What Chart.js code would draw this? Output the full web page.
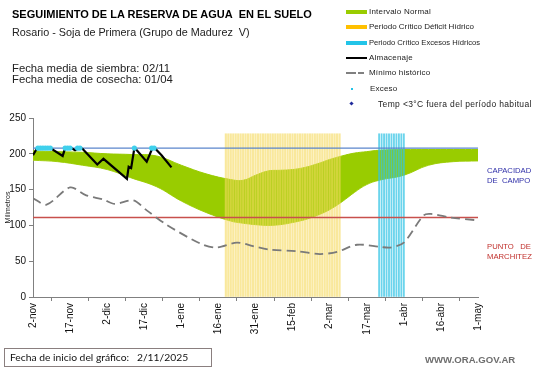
<!DOCTYPE html>
<html>
<head>
<meta charset="utf-8">
<script src="https://cdn.jsdelivr.net/npm/chart.js@4.4.1/dist/chart.umd.min.js"></script>
<style>
  html, body { margin: 0; padding: 0; background: #fff; }
  #wrap { position: relative; width: 541px; height: 368px; overflow: hidden; font-family: 'Liberation Sans', Arial, sans-serif; }
  #chart { position: absolute; left: 0; top: 0; }
  .t { position: absolute; white-space: nowrap; color: #000; }
  .lg { position: absolute; left: 369px; font-size: 8px; line-height: 8px; color: #222; letter-spacing: 0.2px; white-space: nowrap; }
  .sw { position: absolute; }
</style>
</head>
<body>
<div id="wrap">
  <canvas id="chart" width="541" height="368"></canvas>

  <div class="t" style="left:12px;top:9px;font-size:11px;line-height:11px;font-weight:bold;">SEGUIMIENTO DE LA RESERVA DE AGUA&nbsp; EN EL SUELO</div>
  <div class="t" style="left:12px;top:27px;font-size:10.8px;line-height:11px;color:#222;">Rosario - Soja de Primera (Grupo de Madurez&nbsp; V)</div>
  <div class="t" style="left:12px;top:63px;font-size:11.3px;line-height:11px;color:#222;">Fecha media de siembra: 02/11</div>
  <div class="t" style="left:12px;top:74px;font-size:11.3px;line-height:11px;color:#222;">Fecha media de cosecha: 01/04</div>

  <!-- legend -->
  <div class="sw" style="left:346px;top:10px;width:21px;height:4px;background:#99cc00;"></div>
  <div class="lg" style="top:8px;">Intervalo Normal</div>
  <div class="sw" style="left:346px;top:25px;width:21px;height:4px;background:#ffc000;"></div>
  <div class="lg" style="top:23px;letter-spacing:0;">Periodo Crítico Déficit Hídrico</div>
  <div class="sw" style="left:346px;top:41px;width:21px;height:4px;background:#22c4e8;"></div>
  <div class="lg" style="top:39px;font-size:7.6px;letter-spacing:0;">Periodo Crítico Excesos Hídricos</div>
  <div class="sw" style="left:346px;top:57px;width:21px;height:2px;background:#000;"></div>
  <div class="lg" style="top:54px;">Almacenaje</div>
  <div class="sw" style="left:346px;top:72px;width:10px;height:2px;background:#808080;"></div>
  <div class="sw" style="left:358px;top:72px;width:6px;height:2px;background:#808080;"></div>
  <div class="lg" style="top:69px;">Mínimo histórico</div>
  <div class="sw" style="left:351px;top:88px;width:2px;height:2px;background:#22c4e8;"></div>
  <div class="lg" style="top:85px;left:370px;">Exceso</div>
  <div class="sw" style="left:350px;top:102px;width:3px;height:3px;background:#1f2a9c;transform:rotate(45deg);"></div>
  <div class="lg" style="top:100px;left:378px;font-size:8.5px;letter-spacing:0.35px;">Temp &lt;3°C fuera del período habitual</div>

  <!-- reference lines labels -->
  <div class="t" style="left:487px;top:166px;font-size:7.7px;line-height:10px;color:#2e2ea8;">CAPACIDAD<br>DE&nbsp; CAMPO</div>
  <div class="t" style="left:487px;top:242px;font-size:7.7px;line-height:10px;color:#c0302c;">PUNTO&nbsp;&nbsp; DE<br>MARCHITEZ</div>

  <!-- footer -->
  <div class="t" style="left:4px;top:348px;width:206px;height:17px;border:1px solid #8a7f7f;"></div>
  <div class="t" style="left:10px;top:351px;font-family:Lato, 'Open Sans', sans-serif;font-size:10.3px;line-height:12px;color:#111;">Fecha de inicio del gráfico:&nbsp;&nbsp; 2/11/2025</div>
  <div class="t" style="left:425px;top:355px;font-size:9.6px;line-height:10px;font-weight:bold;color:#6e6e6e;">WWW.ORA.GOV.AR</div>
</div>

<script>
// x axis is days counted from 2-nov (day 0) to 1-may (day 180)
const tickLabels = ['2-nov', '17-nov', '2-dic', '17-dic', '1-ene', '16-ene', '31-ene', '15-feb', '2-mar', '17-mar', '1-abr', '16-abr', '1-may'];

// Intervalo normal (upper / lower bounds)
const bandDays = [0, 10, 20, 30, 40, 50, 60, 70, 80, 85, 90, 95, 100, 105, 110, 115, 120, 125, 130, 135, 140, 150, 160, 170, 180];
const bandUpper = [204, 203, 202, 200, 199, 197, 184, 172, 164, 163, 170, 176, 177, 178, 181, 186, 192, 197, 201, 203, 205, 206, 206, 206, 206];
const bandLower = [191, 189, 184, 178, 166, 154, 134, 118, 106, 103, 101, 100, 101, 104, 108, 114, 122, 133, 146, 157, 163, 170, 184, 189, 190];

// Almacenaje
const storeDays = [0, 1.5, 7.5, 12, 13, 15.5, 17, 18.5, 20, 26, 28.5, 38, 38.7, 39.7, 41, 42, 46, 48.3, 49.5, 52, 56];
const storeVals = [198, 207, 207, 197, 208, 208, 205, 208, 207, 185, 193, 165, 182, 180, 208, 205, 189, 208, 207, 198, 181];

// Exceso points
const excessDays = [2, 3, 4, 5, 6, 7, 13, 14, 15, 18, 19, 41, 48, 49];
const excessVal = 208;

// Minimo historico
const minDays = [0, 5.5, 15, 21.5, 28.5, 33, 40.5, 46, 54, 67.5, 74, 82.5, 89, 96, 106.5, 116, 123, 131, 140.5, 144.5, 150, 158, 161, 169, 180];
const minVals = [138, 129, 153, 142, 136, 130, 135, 121, 101, 75, 69, 76, 71, 66, 64, 60, 63, 73, 70, 69, 76, 114, 116, 111, 107];

// Periodos criticos (one bar per day)
const deficitStart = 78, deficitEnd = 124;
const excessStart = 140, excessEnd = 150;
const criticalHeight = 228;

const capacidadCampo = 208;
const puntoMarchitez = 111;

const zip = (xs, ys) => xs.map((x, i) => ({ x: x, y: ys[i] }));
const dayRange = (a, b, v) => { const out = []; for (let d = a; d <= b; d++) out.push({ x: d, y: v }); return out; };

const ctx = document.getElementById('chart').getContext('2d');
new Chart(ctx, {
    type: 'line',
    data: {
        datasets: [
            {
                label: 'Exceso',
                data: excessDays.map(d => ({ x: d, y: excessVal })),
                showLine: false,
                pointRadius: 2.6,
                pointBackgroundColor: '#3fd0ec',
                pointBorderWidth: 0,
                order: 0
            },
            {
                label: 'Almacenaje',
                data: zip(storeDays, storeVals),
                borderColor: '#000',
                borderWidth: 2.2,
                pointRadius: 0,
                tension: 0,
                order: 1
            },
            {
                label: 'Mínimo histórico',
                data: zip(minDays, minVals),
                borderColor: '#7a7a7a',
                borderWidth: 1.8,
                borderDash: [9, 5],
                pointRadius: 0,
                tension: 0.3,
                order: 2
            },
            {
                label: 'Capacidad de campo',
                data: [{ x: 0, y: capacidadCampo }, { x: 180, y: capacidadCampo }],
                borderColor: '#5b86cc',
                borderWidth: 1.2,
                pointRadius: 0,
                order: 3
            },
            {
                label: 'Punto de marchitez',
                data: [{ x: 0, y: puntoMarchitez }, { x: 180, y: puntoMarchitez }],
                borderColor: '#c8504c',
                borderWidth: 1.3,
                pointRadius: 0,
                order: 3
            },
            {
                type: 'bar',
                label: 'Periodo Crítico Déficit Hídrico',
                data: dayRange(deficitStart, deficitEnd, criticalHeight),
                backgroundColor: 'rgba(245, 218, 95, 0.62)',
                barThickness: 1.5,
                grouped: false,
                order: 4
            },
            {
                type: 'bar',
                label: 'Periodo Crítico Excesos Hídricos',
                data: dayRange(excessStart, excessEnd, criticalHeight),
                backgroundColor: 'rgba(50, 195, 228, 0.72)',
                barThickness: 1.2,
                grouped: false,
                order: 4
            },
            {
                label: 'Intervalo Normal',
                data: zip(bandDays, bandUpper),
                borderColor: '#99cc00',
                borderWidth: 1,
                backgroundColor: '#99cc00',
                pointRadius: 0,
                tension: 0.4,
                fill: 8,
                order: 5
            },
            {
                label: 'Intervalo Normal (min)',
                data: zip(bandDays, bandLower),
                borderColor: '#a8d21a',
                borderWidth: 1,
                pointRadius: 0,
                tension: 0.4,
                fill: false,
                order: 5
            }
        ]
    },
    options: {
        responsive: false,
        animation: false,
        layout: { padding: { left: 0, top: 118, right: 63, bottom: 0 } },
        plugins: {
            legend: { display: false },
            tooltip: { enabled: false }
        },
        scales: {
            x: {
                type: 'linear',
                min: 0,
                max: 180,
                offset: false,
                afterFit: s => { s.height = 71; },
                afterBuildTicks: s => { s.ticks = tickLabels.map((l, i) => ({ value: i * 15 })); },
                ticks: {
                    autoSkip: false,
                    minRotation: 90,
                    maxRotation: 90,
                    padding: 2,
                    color: '#111',
                    font: { family: "'Liberation Sans', Arial", size: 10 },
                    callback: v => tickLabels[Math.round(v / 15)]
                },
                grid: { drawOnChartArea: false, tickLength: 4, color: '#808080' },
                border: { color: '#808080' }
            },
            y: {
                min: 0,
                max: 250,
                afterFit: s => { s.width = 33; },
                ticks: {
                    stepSize: 50,
                    padding: 3,
                    color: '#111',
                    font: { family: "'Liberation Sans', Arial", size: 10 }
                },
                grid: { drawOnChartArea: false, tickLength: 4, color: '#808080' },
                border: { color: '#808080' },
                title: {
                    display: true,
                    text: 'Milimetros',
                    padding: { top: 4, bottom: 0 },
                    color: '#222',
                    font: { family: "'Liberation Sans', Arial", size: 7 }
                }
            }
        }
    }
});
</script>
</body>
</html>
